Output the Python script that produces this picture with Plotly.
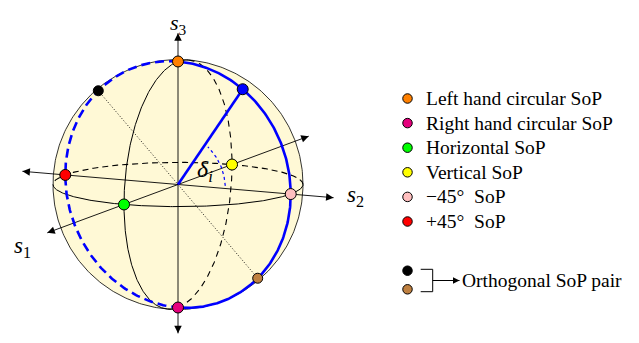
import numpy as np
import plotly.graph_objects as go

# ---------------- data ----------------
sop_labels = ["Left hand circular SoP", "Right hand circular SoP", "Horizontal SoP",
              "Vertical SoP", "−45°  SoP", "+45°  SoP"]
sop_colors = ["#FF8000", "#E5007D", "#00FF00", "#FFFF00", "#FFBFBF", "#FF0000"]
sop_s1 = [0, 0, 1, -1, 0, 0]
sop_s2 = [0, 0, 0, 0, 1, -1]
sop_s3 = [1, -1, 0, 0, 0, 0]

pair_label = "Orthogonal SoP pair"
pair_colors = ["#000000", "#BF8040"]
pair_s1 = [0.0, 0.0]
pair_s2 = [-0.707, 0.707]
pair_s3 = [0.707, -0.707]

state_color = "#0000FF"
state_s1, state_s2, state_s3 = 0.0, 0.574, 0.819
delta_text = "<i>δ<sub>i</sub></i>"

axis_names = ["<i>s</i><sub>1</sub>", "<i>s</i><sub>2</sub>", "<i>s</i><sub>3</sub>"]
axis_pos_len = [2.42, 1.38, 1.23]
axis_neg_len = [2.42, 1.38, 1.21]

# ---------------- geometry / layout constants ----------------
W, H = 639, 343          # window
PAGE_OFF = 8             # default body margin of the page
FW, FH = W - 2 * PAGE_OFF, H - 2 * PAGE_OFF
CX, CY, R = 178.0, 184.5, 125.0   # sphere centre / radius in window pixels
AZ, EL = np.radians(25.6), np.radians(10.2)
RIGHT = np.array([-np.sin(AZ), np.cos(AZ), 0.0])
UP = np.array([-np.cos(AZ) * np.sin(EL), -np.sin(AZ) * np.sin(EL), np.cos(EL)])
VIEW = np.array([np.cos(AZ) * np.cos(EL), np.sin(AZ) * np.cos(EL), np.sin(EL)])
E1, E2, E3 = np.eye(3)
FONT = "Liberation Serif, Times New Roman, serif"
SPHERE_FILL = "#FFF9D6"


def proj(P):
    P = np.atleast_2d(np.asarray(P, dtype=float))
    return P @ RIGHT, P @ UP


def arc(a, b, t0, t1, r=1.0, n=240):
    t = np.radians(np.linspace(t0, t1, n))
    P = r * (np.outer(np.cos(t), a) + np.outer(np.sin(t), b))
    return proj(P)


def pix(px, py):
    return (px - CX) / R, (CY - py) / R


fig = go.Figure()


def line(xy, color="black", width=1.0, dash="solid"):
    fig.add_trace(go.Scatter(x=xy[0], y=xy[1], mode="lines",
                             line=dict(color=color, width=width, dash=dash),
                             hoverinfo="skip", showlegend=False))


def arrowhead(tip, back, color="black", size=1.5, width=1.0):
    fig.add_annotation(x=tip[0], y=tip[1], ax=back[0], ay=back[1],
                       xref="x", yref="y", axref="x", ayref="y",
                       text="", showarrow=True, arrowhead=2, arrowsize=size,
                       arrowwidth=width, arrowcolor=color, standoff=0)


# sphere silhouette
t = np.linspace(0, 2 * np.pi, 361)
fig.add_trace(go.Scatter(x=np.cos(t), y=np.sin(t), mode="lines", fill="toself",
                         fillcolor=SPHERE_FILL, line=dict(color="black", width=0.8),
                         hoverinfo="skip", showlegend=False))


def split_circle(a, b):
    phi = np.degrees(np.arctan2(b @ VIEW, a @ VIEW))
    return (phi - 90, phi + 90), (phi + 90, phi + 270)


# equator (s3 = 0)
front, back = split_circle(E1, E2)
line(arc(E1, E2, *back), width=1.1, dash="6px,4px")
line(arc(E1, E2, *front))
# meridian s2 = 0
front, back = split_circle(E1, E3)
line(arc(E1, E3, *back), width=1.1, dash="6px,5px")
line(arc(E1, E3, *front))

# axes
for i, e in enumerate([E1, E2, E3]):
    p0 = proj(-axis_neg_len[i] * e)
    p1 = proj(axis_pos_len[i] * e)
    line(([p0[0][0], p1[0][0]], [p0[1][0], p1[1][0]]), width=0.9)
    d = np.array([p1[0][0] - p0[0][0], p1[1][0] - p0[1][0]])
    d = d / np.linalg.norm(d)
    tip1 = np.array([p1[0][0], p1[1][0]])
    tip0 = np.array([p0[0][0], p0[1][0]])
    arrowhead(tip1, tip1 - 0.06 * d)
    arrowhead(tip0, tip0 + 0.06 * d)

# orthogonal pair connecting dotted line
pp = proj(np.column_stack([pair_s1, pair_s2, pair_s3]))
line(pp, width=0.9, dash="1px,2px")

# blue great circle s1 = 0
line(arc(E2, E3, 90, 270), color=state_color, width=2.6, dash="9px,5px")
line(arc(E2, E3, -90, 90), color=state_color, width=2.6)

# state vector
sv = proj([[0, 0, 0], [state_s1, state_s2, state_s3]])
line(sv, color=state_color, width=2.6)

# delta arc
ang = np.degrees(np.arctan2(state_s3, state_s2))
da = arc(E2, E3, 3, ang - 4, r=0.42, n=60)
line(da, color=state_color, width=1.2, dash="dot")
for k0, k1 in [(-1, -4), (0, 3)]:
    tip = np.array([da[0][k0], da[1][k0]])
    bk = np.array([da[0][k1], da[1][k1]])
    arrowhead(tip, bk, color=state_color, size=1.2, width=1.0)

# SoP markers on sphere
sp = proj(np.column_stack([sop_s1, sop_s2, sop_s3]))
fig.add_trace(go.Scatter(x=sp[0], y=sp[1], mode="markers",
                         marker=dict(size=11, color=sop_colors, line=dict(color="black", width=1)),
                         hoverinfo="skip", showlegend=False))
fig.add_trace(go.Scatter(x=pp[0], y=pp[1], mode="markers",
                         marker=dict(size=10, color=pair_colors, line=dict(color="black", width=1)),
                         hoverinfo="skip", showlegend=False))
fig.add_trace(go.Scatter(x=sv[0][1:], y=sv[1][1:], mode="markers",
                         marker=dict(size=11, color=state_color, line=dict(color="black", width=1)),
                         hoverinfo="skip", showlegend=False))

# axis labels (s1, s2 centred; s3 hung from the top edge of the figure)
label_pix = [(22, 247), (355, 196)]
for name, (px, py) in zip(axis_names[:2], label_pix):
    x, y = pix(px, py)
    fig.add_annotation(x=x, y=y, xref="x", yref="y", text=name, showarrow=False,
                       font=dict(family=FONT, size=23, color="black"), borderpad=0,
                       xanchor="center", yanchor="middle")
x, y = pix(178, PAGE_OFF + 0.5)
fig.add_annotation(x=x, y=y, xref="x", yref="y", text=axis_names[2], showarrow=False,
                   font=dict(family=FONT, size=22, color="black"), borderpad=0,
                   xanchor="center", yanchor="top")
x, y = pix(205, 171)
fig.add_annotation(x=x, y=y, xref="x", yref="y", text=delta_text, showarrow=False,
                   font=dict(family=FONT, size=24, color="black"), borderpad=0,
                   xanchor="center", yanchor="middle")

# custom legend
LX, LT, LY0, LDY = 407.5, 425.0, 98.5, 24.6
LFS = 19.5
lx, ly = [], []
for i in range(len(sop_labels)):
    x, y = pix(LX, LY0 + i * LDY)
    lx.append(x); ly.append(y)
    tx, _ = pix(LT, 0)
    fig.add_annotation(x=tx, y=y, xref="x", yref="y", text=sop_labels[i], showarrow=False,
                       font=dict(family=FONT, size=LFS, color="black"), borderpad=0,
                       xanchor="left", yanchor="middle")
fig.add_trace(go.Scatter(x=lx, y=ly, mode="markers",
                         marker=dict(size=9.5, color=sop_colors, line=dict(color="black", width=1)),
                         hoverinfo="skip", showlegend=False))
py_pair = [270.7, 289.3]
plx = [pix(LX, p)[0] for p in py_pair]
ply = [pix(LX, p)[1] for p in py_pair]
fig.add_trace(go.Scatter(x=plx, y=ply, mode="markers",
                         marker=dict(size=9.5, color=pair_colors, line=dict(color="black", width=1)),
                         hoverinfo="skip", showlegend=False))
bx = [pix(p, 0)[0] for p in (420.7, 432.7, 432.7, 420.7)]
by = [pix(0, p)[1] for p in (269.3, 269.3, 291.7, 291.7)]
line((bx, by), width=1.0)
a0 = np.array(pix(432.7, 280.5))
a1 = np.array(pix(459.5, 280.5))
line(([a0[0], a1[0]], [a0[1], a1[1]]), width=1.0)
arrowhead(a1, a1 - np.array([0.05, 0]), size=1.3)
tx, ty = pix(460.5, 280.5)
fig.add_annotation(x=tx, y=ty, xref="x", yref="y", text=pair_label, showarrow=False,
                   font=dict(family=FONT, size=LFS, color="black"), borderpad=0,
                   xanchor="left", yanchor="middle")

fig.update_layout(
    width=FW, height=FH, margin=dict(l=0, r=0, t=0, b=0),
    paper_bgcolor="white", plot_bgcolor="white", showlegend=False,
    xaxis=dict(range=[(PAGE_OFF - CX) / R, (PAGE_OFF + FW - CX) / R], visible=False, fixedrange=True),
    yaxis=dict(range=[(CY - PAGE_OFF - FH) / R, (CY - PAGE_OFF) / R], visible=False, fixedrange=True),
)
fig.write_html("out.html")
